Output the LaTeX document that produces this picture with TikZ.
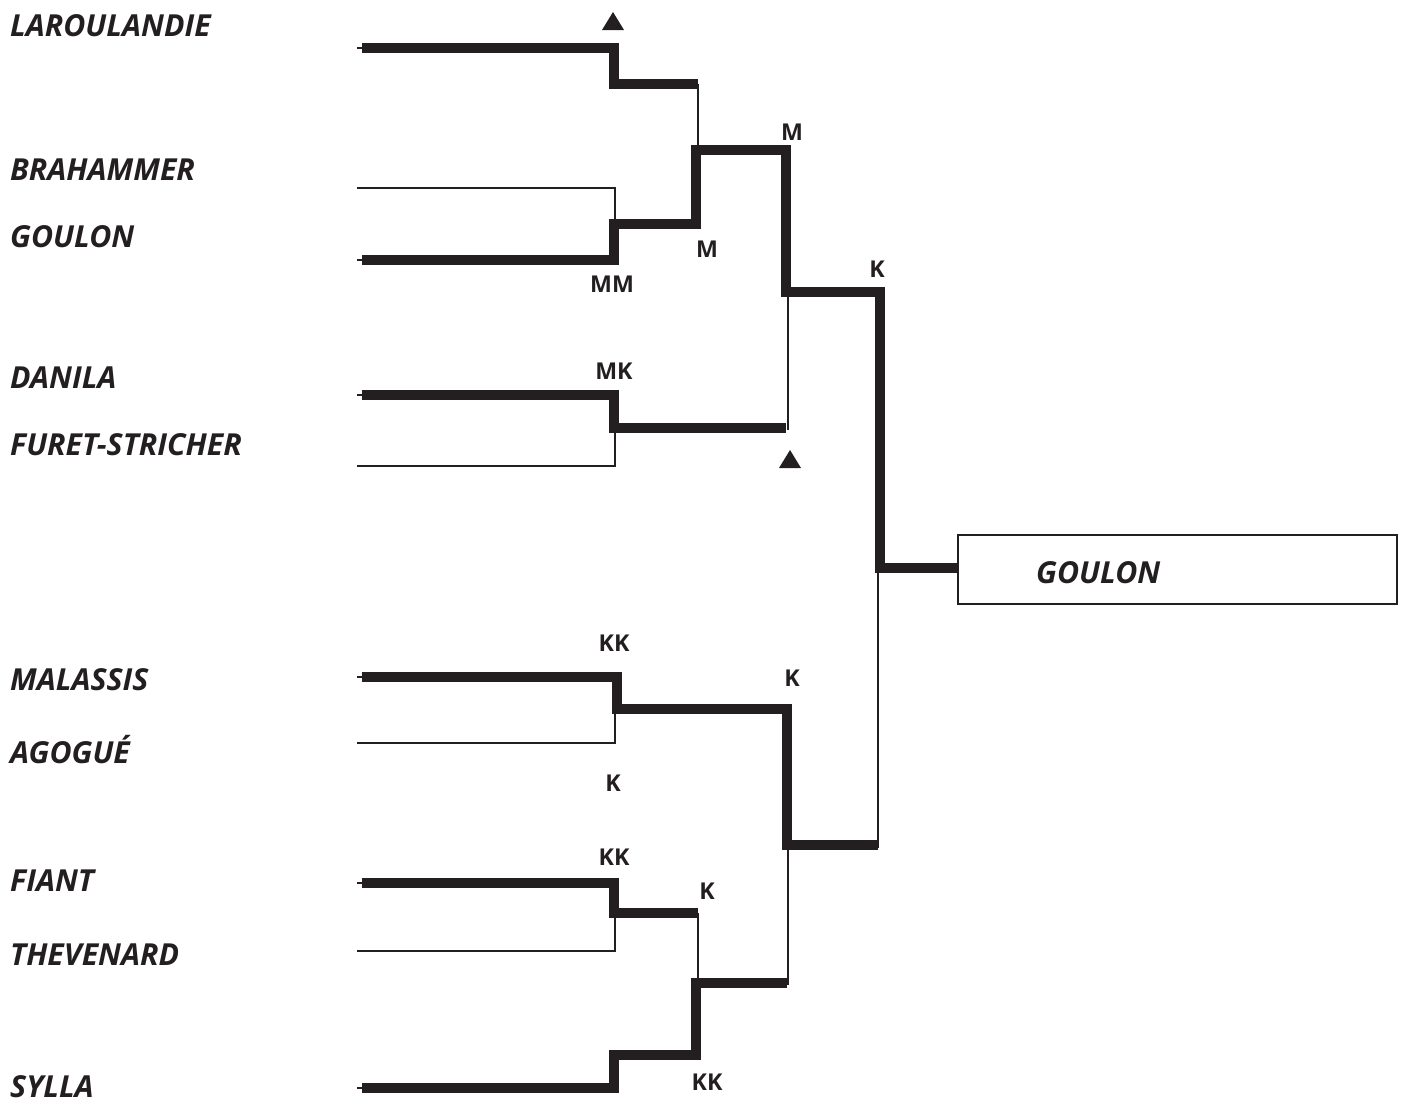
\documentclass[tikz,border=0pt]{standalone}
\usepackage{fontspec}
\setmainfont{Open Sans}
\definecolor{ink}{HTML}{231F20}
\begin{document}
\begin{tikzpicture}[x=1pt,y=-1pt,
  thickln/.style={draw=ink,line width=10pt,line cap=butt,line join=miter},
  thinln/.style={draw=ink,line width=2pt,line cap=butt,line join=miter},
  player/.style={anchor=base west,inner sep=0pt,font=\fontsize{30.3}{33}\selectfont\bfseries\itshape,text=ink},
  scorelbl/.style={anchor=base,inner sep=0pt,font=\fontsize{23.2}{25}\selectfont\bfseries,text=ink},
  trimark/.style={fill=ink,draw=none}]
\useasboundingbox (0,0) rectangle (1404,1101);
% names
\node[player] (n1) at (10,36) {LAROULANDIE};
\node[player] (n2) at (10,180) {BRAHAMMER};
\node[player] (n3) at (10,247) {GOULON};
\node[player] (n4) at (10,388) {DANILA};
\node[player] (n5) at (10,455) {FURET-STRICHER};
\node[player] (n6) at (10,690) {MALASSIS};
\node[player] (n7) at (10,763) {AGOGUÉ};
\node[player] (n8) at (10,891) {FIANT};
\node[player] (n9) at (10,965) {THEVENARD};
\node[player] (n10) at (10,1097) {SYLLA};
% coordinates
\coordinate (a0) at (362,48);  \coordinate (a1) at (614,48);  \coordinate (a2) at (614,84);  \coordinate (a3) at (698,84);
\coordinate (b0) at (357,188); \coordinate (b1) at (615,188); \coordinate (b2) at (615,224);
\coordinate (g0) at (362,260); \coordinate (g1) at (614,260); \coordinate (g2) at (614,224); \coordinate (g3) at (696,224);
\coordinate (g4) at (696,150); \coordinate (g5) at (786,150); \coordinate (g6) at (786,292); \coordinate (g7) at (880,292);
\coordinate (g8) at (880,568);
\coordinate (d0) at (362,395); \coordinate (d1) at (614,395); \coordinate (d2) at (614,428); \coordinate (d3) at (786,428);
\coordinate (f0) at (357,466); \coordinate (f1) at (615,466); \coordinate (f2) at (615,428);
\coordinate (m0) at (362,677); \coordinate (m1) at (617,677); \coordinate (m2) at (617,709); \coordinate (m3) at (787,709);
\coordinate (m4) at (787,845); \coordinate (m5) at (878,845);
\coordinate (ag0) at (357,743); \coordinate (ag1) at (615,743); \coordinate (ag2) at (615,709);
\coordinate (fi0) at (362,883); \coordinate (fi1) at (614,883); \coordinate (fi2) at (614,913); \coordinate (fi3) at (698,913);
\coordinate (t0) at (357,951); \coordinate (t1) at (615,951); \coordinate (t2) at (615,913);
\coordinate (s0) at (362,1088); \coordinate (s1) at (614,1088); \coordinate (s2) at (614,1055); \coordinate (s3) at (696,1055);
\coordinate (s4) at (696,983); \coordinate (s5) at (787,983);
% winner box
\node[draw=ink,line width=2pt,minimum width=439pt,minimum height=69pt,inner sep=0pt] (box) at (1177.5,569.5) {};
\node[player] (win) at (1036,583) {GOULON};
% thin lines
\draw[thinln] (b0) -- (b1) -- (b2);
\draw[thinln] (f0) -- (f1) -- (f2);
\draw[thinln] (ag0) -- (ag1) -- (ag2);
\draw[thinln] (t0) -- (t1) -- (t2);
\draw[thinln] (a3) -- (698,150);
\draw[thinln] (788,292) -- (788,430);
\draw[thinln] (878,568) -- (878,848);
\draw[thinln] (fi3) -- (698,983);
\draw[thinln] (788,845) -- (788,985);
\foreach \y in {48,260,395,677,883,1088} \draw[thinln] (357,\y) -- (366,\y);
% thick lines
\draw[thickln] (a0) -- (a1) -- (a2) -- (a3);
\draw[thickln] (g0) -- (g1) -- (g2) -- (g3) -- (g4) -- (g5) -- (g6) -- (g7) -- (g8) -- (box.west|-g8);
\draw[thickln] (d0) -- (d1) -- (d2) -- (d3);
\draw[thickln] (m0) -- (m1) -- (m2) -- (m3) -- (m4) -- (m5);
\draw[thickln] (fi0) -- (fi1) -- (fi2) -- (fi3);
\draw[thickln] (s0) -- (s1) -- (s2) -- (s3) -- (s4) -- (s5);
% triangles
\fill[trimark] (602,30) -- (624,30) -- (613,12) -- cycle;
\fill[trimark] (779,468) -- (801,468) -- (790,450) -- cycle;
% scores
\node[scorelbl] (l1) at (792,140) {M};
\node[scorelbl] (l2) at (612,292) {MM};
\node[scorelbl] (l3) at (707,257) {M};
\node[scorelbl] (l4) at (877,277) {K};
\node[scorelbl] (l5) at (614,379) {MK};
\node[scorelbl] (l6) at (614,651) {KK};
\node[scorelbl] (l7) at (792,686) {K};
\node[scorelbl] (l8) at (613,791) {K};
\node[scorelbl] (l9) at (614,865) {KK};
\node[scorelbl] (l10) at (707,899) {K};
\node[scorelbl] (l11) at (707,1090) {KK};
\end{tikzpicture}
\end{document}
